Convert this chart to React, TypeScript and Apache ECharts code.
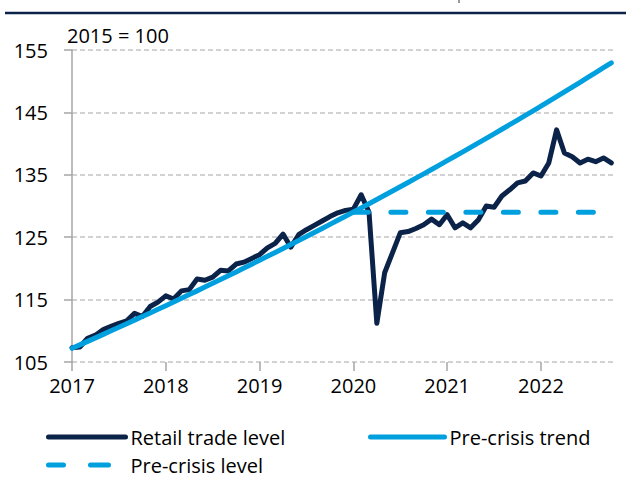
import React, { useEffect, useRef } from "react";
import * as echarts from "echarts";

const yearLabels = ["2017", "2018", "2019", "2020", "2021", "2022"];
const yTicks = [105, 115, 125, 135, 145, 155];

// Monthly index values, Jan 2017 .. Oct 2022
const retailLevel = [
  107.3, 107.4, 108.8, 109.3, 110.2, 110.7, 111.2, 111.6, 112.8, 112.3, 113.9, 114.6,
  115.6, 115.1, 116.4, 116.6, 118.3, 118.1, 118.6, 119.7, 119.6, 120.7, 121.0, 121.6,
  122.2, 123.3, 124.0, 125.5, 123.4, 125.4, 126.2, 126.9, 127.6, 128.3, 128.9, 129.3,
  129.5, 131.8, 129.0, 111.2, 119.3, 122.5, 125.7, 125.9, 126.4, 127.0, 127.9, 127.0,
  128.6, 126.5, 127.3, 126.5, 127.8, 130.0, 129.8, 131.6, 132.6, 133.7, 134.0, 135.3,
  134.8, 136.9, 142.2, 138.5, 137.9, 136.9, 137.5, 137.1, 137.7, 136.9,
];

const preCrisisTrend = [
  107.2, 107.75, 108.31, 108.87, 109.43, 110.0, 110.56, 111.13, 111.71, 112.28, 112.86, 113.44,
  114.03, 114.62, 115.21, 115.81, 116.4, 117.0, 117.61, 118.22, 118.83, 119.44, 120.06, 120.68,
  121.3, 121.93, 122.56, 123.19, 123.83, 124.47, 125.11, 125.76, 126.4, 127.06, 127.71, 128.37,
  129.03, 129.7, 130.37, 131.04, 131.72, 132.4, 133.08, 133.77, 134.46, 135.15, 135.85, 136.55,
  137.26, 137.97, 138.68, 139.4, 140.12, 140.84, 141.57, 142.3, 143.03, 143.77, 144.51, 145.26,
  146.01, 146.77, 147.52, 148.29, 149.05, 149.82, 150.6, 151.38, 152.16, 152.94,
];

// Pre-crisis level: flat from Jan 2020 (month 36) to Aug 2022 (month 67)
const levelMonths = [36, 67];
const levelValues = [129.0, 129.0];

const NAVY = "#0c2349";
const BLUE = "#00a0df";
const FONT = "Open Sans";

export default function App() {
  const ref = useRef<HTMLDivElement>(null);
  useEffect(() => {
    if (!ref.current) return;
    const chart = echarts.init(ref.current, undefined, { renderer: "svg" });
    const yearMonths = yearLabels.map((_, i) => i * 12);
    const legendText = { fontSize: 20, color: "#000", fontFamily: FONT };
    const legendCommon = {
      padding: 0,
      itemHeight: 14,
      textStyle: legendText,
      itemStyle: { opacity: 0, borderWidth: 0 },
    };
    chart.setOption({
      animation: false,
      textStyle: { fontFamily: FONT },
      grid: { left: 72, right: 10, top: 50, bottom: 116, containLabel: false },
      graphic: [
        { type: "line", shape: { x1: 5, y1: 13, x2: 626, y2: 13 }, style: { stroke: NAVY, lineWidth: 2.5 } },
        { type: "rect", shape: { x: 458, y: 0, width: 2, height: 3 }, style: { fill: "#999" } },
        { type: "text", left: 67, top: 25, style: { text: "2015 = 100", fontSize: 20, fill: "#000", fontFamily: FONT } },
      ],
      legend: [
        {
          ...legendCommon, data: ["Retail trade level"], left: 46, top: 427, itemWidth: 77,
          lineStyle: { width: 5, cap: "round" },
        },
        {
          ...legendCommon, data: ["Pre-crisis trend"], left: 368, top: 427, itemWidth: 74,
          lineStyle: { width: 5, cap: "round" },
        },
        {
          ...legendCommon, data: ["Pre-crisis level"], left: 46, top: 455, itemWidth: 77,
          lineStyle: { width: 5, cap: "round", type: [15, 27, 18, 60] },
        },
      ],
      xAxis: {
        type: "value",
        min: 0,
        max: 69.6,
        interval: 12,
        axisLine: { show: false },
        axisTick: {
          show: true, length: 9, customValues: yearMonths,
          lineStyle: { color: "#a6a6a6", width: 1.5 },
        },
        axisLabel: {
          customValues: yearMonths,
          formatter: (v: number) => yearLabels[Math.round(v / 12)] ?? "",
          fontSize: 20, color: "#000", margin: 13,
        },
        splitLine: { show: false },
      },
      yAxis: {
        type: "value",
        min: yTicks[0],
        max: yTicks[yTicks.length - 1],
        interval: 10,
        axisLine: { show: true, lineStyle: { color: "#a6a6a6", width: 1.5 } },
        axisTick: { show: true, length: 8, lineStyle: { color: "#a6a6a6", width: 1.5 } },
        axisLabel: { fontSize: 20, color: "#000", margin: 24 },
        splitLine: { show: true, lineStyle: { color: "#c3c3c3", width: 1.5, type: [5, 3] } },
      },
      series: [
        {
          name: "Retail trade level", type: "line", symbol: "none",
          data: retailLevel.map((v, i) => [i, v]),
          lineStyle: { color: NAVY, width: 5, join: "round", cap: "round" },
          itemStyle: { color: NAVY }, z: 2,
        },
        {
          name: "Pre-crisis trend", type: "line", symbol: "none",
          data: preCrisisTrend.map((v, i) => [i, v]),
          lineStyle: { color: BLUE, width: 5, join: "round", cap: "round" },
          itemStyle: { color: BLUE }, z: 3,
        },
        {
          name: "Pre-crisis level", type: "line", symbol: "none",
          data: levelMonths.map((m, i) => [m, levelValues[i]]),
          lineStyle: { color: BLUE, width: 5, type: [15, 22.5], cap: "round" },
          itemStyle: { color: BLUE }, z: 4,
        },
      ],
    });
    return () => chart.dispose();
  }, []);
  return (
    <div
      ref={ref}
      style={{ position: "fixed", left: 0, top: 0, width: 626, height: 478, background: "#fff" }}
    />
  );
}
